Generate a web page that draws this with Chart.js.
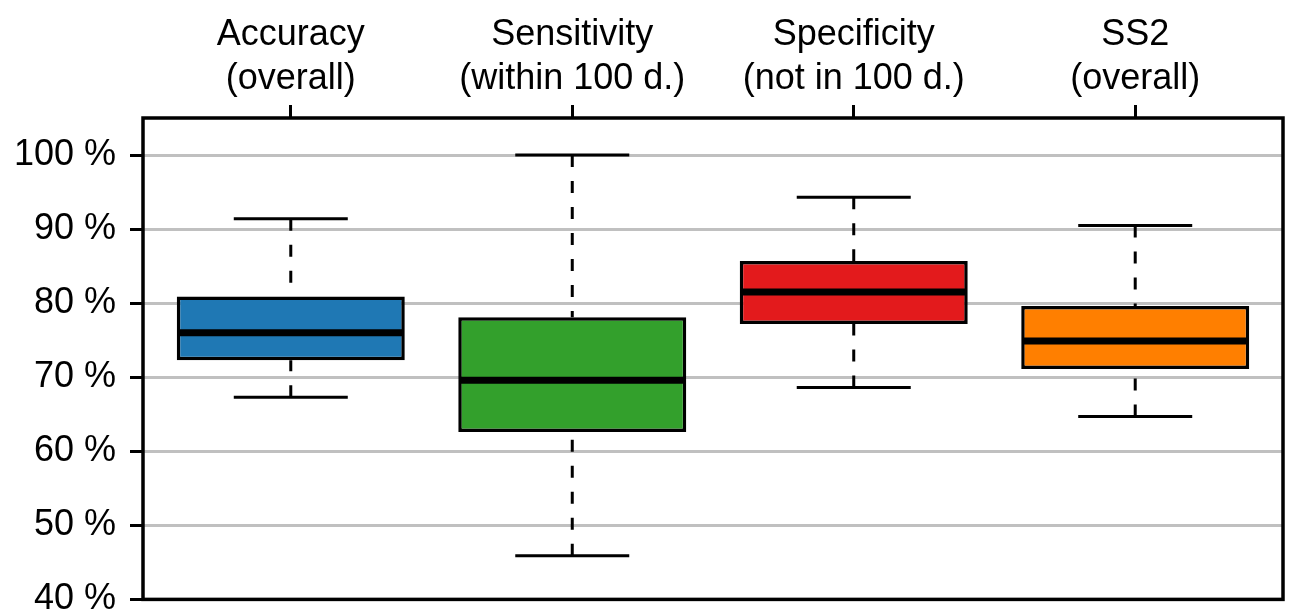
<!DOCTYPE html>
<html>
<head>
<meta charset="utf-8">
<script src="https://cdn.jsdelivr.net/npm/chart.js@4/dist/chart.umd.min.js"></script>
<style>
  html, body { margin: 0; padding: 0; background: #fff; overflow: hidden; }
  #wrap { width: 1291px; height: 635px; position: relative; }
</style>
</head>
<body>
<div id="wrap"><canvas id="chart"></canvas></div>
<script>
// categories (two-line labels on the top axis)
const categories = [
  ["Accuracy", "(overall)"],
  ["Sensitivity", "(within 100 d.)"],
  ["Specificity", "(not in 100 d.)"],
  ["SS2", "(overall)"]
];

// box plot statistics, in %
const whiskerLow  = [67.3, 45.9, 68.6, 64.7];
const q1          = [72.3, 62.6, 77.2, 71.1];
const median      = [76.0, 69.6, 81.5, 74.9];
const q3          = [80.9, 78.1, 85.7, 79.6];
const whiskerHigh = [91.4, 100.0, 94.3, 90.5];

const yTicks = [40, 50, 60, 70, 80, 90, 100];
const boxColors = ["#1f78b4", "#33a02c", "#e31a1c", "#ff7f00"];

const FONT = { family: "'Liberation Sans', Arial, Helvetica, sans-serif", size: 36 };

// whiskers under the boxes, medians and frame on top
const boxParts = {
  id: "boxParts",
  beforeDatasetsDraw(chart) {
    const ctx = chart.ctx;
    const xs = chart.scales.x, ys = chart.scales.y;
    const bars = chart.getDatasetMeta(0).data;
    ctx.save();
    ctx.strokeStyle = "#000";
    ctx.lineWidth = 3;
    categories.forEach((c, i) => {
      const x = xs.getPixelForValue(i + 1);
      const half = bars[i].width / 4;
      // dashed stems, drawn from whisker end towards the box
      ctx.setLineDash([12, 14]);
      ctx.beginPath();
      ctx.moveTo(x, ys.getPixelForValue(whiskerHigh[i]));
      ctx.lineTo(x, ys.getPixelForValue(q3[i]));
      ctx.moveTo(x, ys.getPixelForValue(whiskerLow[i]));
      ctx.lineTo(x, ys.getPixelForValue(q1[i]));
      ctx.stroke();
      // caps
      ctx.setLineDash([]);
      ctx.beginPath();
      [whiskerHigh[i], whiskerLow[i]].forEach(v => {
        const y = ys.getPixelForValue(v);
        ctx.moveTo(x - half, y);
        ctx.lineTo(x + half, y);
      });
      ctx.stroke();
    });
    ctx.restore();
  },
  afterDatasetsDraw(chart) {
    const ctx = chart.ctx;
    const ys = chart.scales.y;
    const bars = chart.getDatasetMeta(0).data;
    ctx.save();
    ctx.strokeStyle = "#000";
    ctx.lineWidth = 7;
    categories.forEach((c, i) => {
      const b = bars[i];
      const y = ys.getPixelForValue(median[i]);
      ctx.beginPath();
      ctx.moveTo(b.x - b.width / 2 + 1, y);
      ctx.lineTo(b.x + b.width / 2 - 1, y);
      ctx.stroke();
    });
    const a = chart.chartArea;
    ctx.lineWidth = 3.5;
    ctx.strokeRect(a.left, a.top, a.right - a.left, a.bottom - a.top);
    ctx.restore();
  }
};

new Chart(document.getElementById("chart"), {
  type: "bar",
  data: {
    datasets: [{
      data: categories.map((c, i) => ({ x: i + 1, y: [q1[i], q3[i]] })),
      backgroundColor: boxColors,
      borderColor: "#000",
      borderWidth: 3.5,
      borderSkipped: false,
      barPercentage: 0.81,
      categoryPercentage: 1.0
    }]
  },
  options: {
    responsive: true,
    maintainAspectRatio: false,
    animation: false,
    layout: { padding: { top: 0, left: 0, right: 8, bottom: 0 } },
    plugins: { legend: { display: false }, tooltip: { enabled: false } },
    scales: {
      x: {
        type: "linear",
        position: "top",
        offset: false,
        min: 0.475,
        max: 4.525,
        afterBuildTicks: s => { s.ticks = categories.map((c, i) => ({ value: i + 1 })); },
        afterFit: s => { s.height = 118; },
        ticks: {
          color: "#000",
          font: { ...FONT, lineHeight: 1.22 },
          padding: 4,
          maxRotation: 0,
          autoSkip: false,
          callback: v => categories[v - 1]
        },
        grid: {
          offset: false,
          drawOnChartArea: false,
          tickColor: "#000",
          tickWidth: 3,
          tickLength: 13
        },
        border: { display: false }
      },
      y: {
        min: 40,
        max: 105,
        afterBuildTicks: s => { s.ticks = yTicks.map(v => ({ value: v })); },
        afterFit: s => { s.width = 143; },
        ticks: {
          color: "#000",
          font: FONT,
          padding: 14,
          callback: v => v + " %"
        },
        grid: {
          color: "#c0c0c0",
          lineWidth: 3,
          tickColor: "#000",
          tickWidth: 3,
          tickLength: 13
        },
        border: { display: false }
      }
    }
  },
  plugins: [boxParts]
});
</script>
</body>
</html>
